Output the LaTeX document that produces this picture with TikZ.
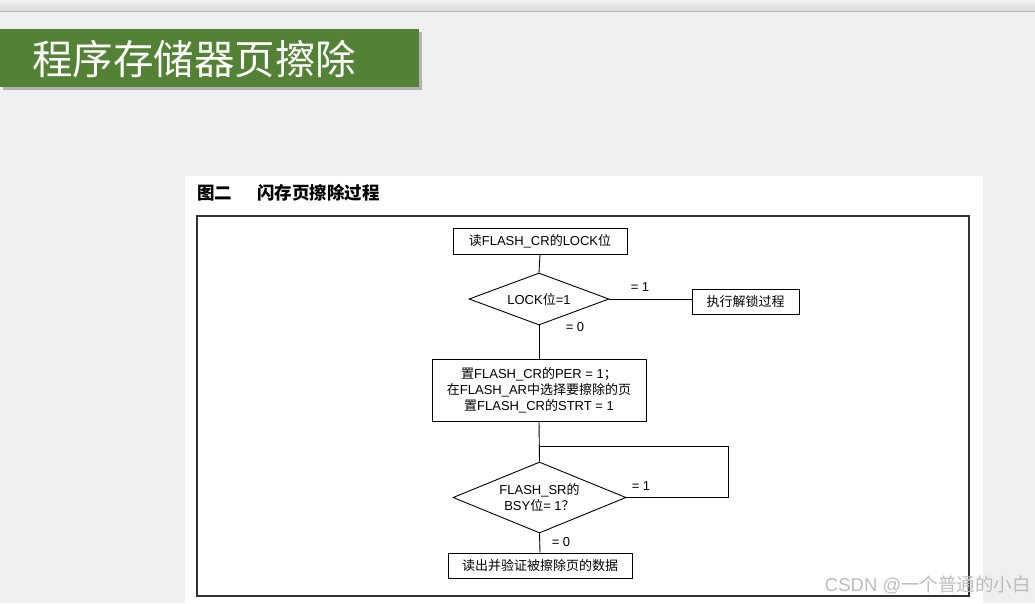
\documentclass[tikz,border=0pt]{standalone}
\usepackage{fontspec}
\setmainfont{Liberation Sans}
\newfontfamily\cjk{Noto Sans CJK SC}
\usetikzlibrary{shapes.geometric}
\definecolor{bgc}{HTML}{EFEFEF}
\definecolor{topc}{HTML}{D8D8D8}
\definecolor{titleg}{HTML}{538135}
\definecolor{framec}{HTML}{333333}
\definecolor{wmc}{HTML}{BDBDBD}
\tikzset{
  box/.style={draw=black, line width=0.9pt, fill=white, inner sep=2pt, font=\fontsize{13}{16}\selectfont, align=center},
  dia/.style={draw=black, line width=0.9pt, fill=white, diamond, inner sep=0pt, font=\fontsize{13}{16}\selectfont, align=center},
  lbl/.style={font=\fontsize{13}{16}\selectfont, inner sep=0pt},
  conn/.style={draw=black, line width=0.9pt}
}
\begin{document}
\begin{tikzpicture}[x=1pt,y=-1pt]
\useasboundingbox (0,0) rectangle (1035,603);
\fill[bgc] (0,0) rectangle (1035,603);
\shade[top color=gray!10, bottom color=topc] (0,0) rectangle (1035,11);
\draw[gray!55, line width=0.8pt] (0,11) -- (1035,11);
% title bar
\fill[black, opacity=0.25] (3,32) rectangle (422,90);
\fill[titleg] (0,29) rectangle (419,87);
\node[text=white, font=\cjk\fontsize{40.5}{44}\selectfont, inner sep=0pt] (title) at (194,59) {程序存储器页擦除};
% white panel
\fill[white] (185,176) rectangle (983,603);
\node[anchor=west, font=\cjk\bfseries\fontsize{17.5}{20}\selectfont, inner sep=0pt] (cap1) at (197,193) {图二};
\node[anchor=west, font=\cjk\bfseries\fontsize{17.5}{20}\selectfont, inner sep=0pt] (cap2) at (257,193) {闪存页擦除过程};
\draw[framec, line width=1.3pt] (197,216) rectangle (969,596);
% nodes
\node[box, minimum width=174pt, minimum height=26pt] (b1) at (540,241) {{\cjk 读}FLASH\_CR{\cjk 的}LOCK{\cjk 位}};
\node[dia, shape aspect=2.69, minimum width=140pt, minimum height=52pt] (d1) at (539,299) {LOCK{\cjk 位}=1};
\node[box, minimum width=107pt, minimum height=25pt] (b2) at (745.5,301.5) {{\cjk 执行解锁过程}};
\node[box, minimum width=214pt, minimum height=62pt] (b3) at (539,390) {{\cjk 置}FLASH\_CR{\cjk 的}PER = 1{\cjk ；}\\{\cjk 在}FLASH\_AR{\cjk 中选择要擦除的页}\\{\cjk 置}FLASH\_CR{\cjk 的}STRT = 1};
\node[dia, shape aspect=2.44, minimum width=173pt, minimum height=71pt] (d2) at (539.5,497.5) {FLASH\_SR{\cjk 的}\\BSY{\cjk 位}= 1{\cjk ？}};
\node[box, minimum width=184pt, minimum height=25pt] (b4) at (540,565.5) {{\cjk 读出并验证被擦除页的数据}};
% labels
\node[lbl] (l1) at (640,287) {= 1};
\node[lbl] (l0) at (575,327) {= 0};
\node[lbl] (l21) at (641,486) {= 1};
\node[lbl] (l20) at (561,542) {= 0};
% connectors
\coordinate (lp) at (728,446);
\draw[conn] (b1.south) -- (d1.north);
\draw[conn] (d1.east) -- (d1.east -| b2.west);
\draw[conn] (d1.south) -- (b3.north);
\draw[conn] (b3.south) -- (d2.north);
\draw[conn] (d2.east) -| (lp) -- (lp -| d2.north);
\draw[conn] (d2.south) -- (b4.north);
% watermark
\node[anchor=east, text=wmc, font=\fontsize{18.5}{20}\selectfont, inner sep=0pt] (wm) at (1031,585) {CSDN @{\cjk 一个普通的小白}};
\end{tikzpicture}
\end{document}
